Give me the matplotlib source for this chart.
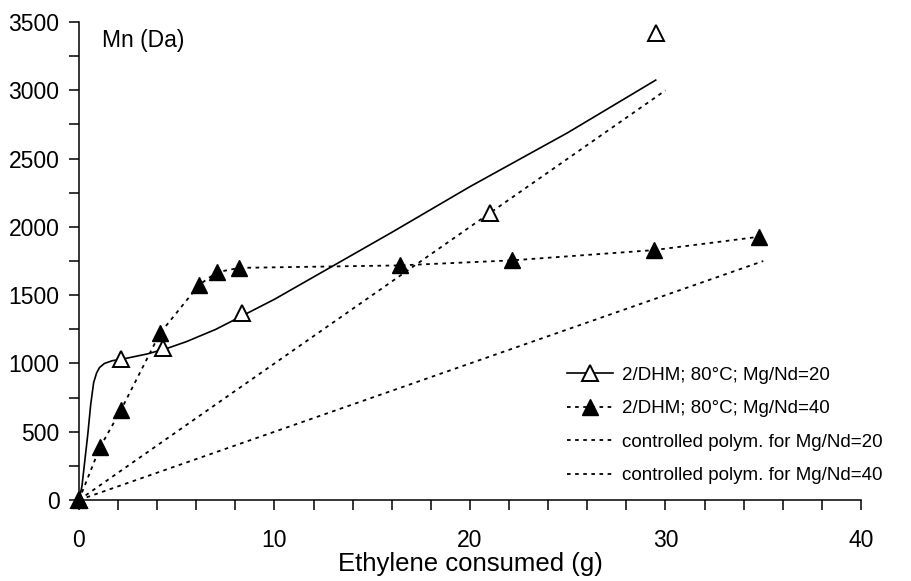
import matplotlib
matplotlib.use("Agg")
import matplotlib.pyplot as plt
from matplotlib.ticker import MultipleLocator

plt.rcParams['font.family'] = ['Liberation Sans', 'DejaVu Sans']

# Mg/Nd=20 measured points
x_nd20 = [0, 2.15, 4.3, 8.35, 21.0, 29.5]
mn_nd20 = [0, 1035, 1110, 1370, 2105, 3420]

# fitted curve through the Mg/Nd=20 series
x_fit20 = [0, 0.15, 0.3, 0.45, 0.6, 0.75, 0.9, 1.05, 1.3, 1.7, 2.5, 3.5, 4.5,
           5.5, 7, 8.5, 10, 13, 16, 20, 25, 29.5]
mn_fit20 = [0, 100, 290, 480, 700, 860, 930, 970, 1000, 1020, 1040, 1070, 1110,
            1160, 1250, 1360, 1470, 1715, 1960, 2295, 2690, 3075]

# Mg/Nd=40 measured points
x_nd40 = [0, 1.07, 2.15, 4.14, 6.14, 7.06, 8.2, 16.4, 22.15, 29.4, 34.8]
mn_nd40 = [0, 385, 660, 1220, 1575, 1668, 1700, 1718, 1755, 1830, 1928]

# theoretical lines for a controlled polymerisation
x_ctrl20 = [0, 30]
mn_ctrl20 = [0, 3000]
x_ctrl40 = [0, 35]
mn_ctrl40 = [0, 1750]

dots = (0, (2, 2.5))

fig = plt.figure(figsize=(9.11, 5.81), dpi=100)
ax = fig.add_axes([0.0867, 0.1394, 0.8584, 0.8226])

ax.plot(x_ctrl20, mn_ctrl20, color='black', linestyle=dots, linewidth=1.3)
ax.plot(x_ctrl40, mn_ctrl40, color='black', linestyle=dots, linewidth=1.3)
ax.plot(x_fit20, mn_fit20, color='black', linewidth=1.2)
ax.plot(x_nd40, mn_nd40, color='black', linestyle=dots, linewidth=1.3,
        marker='^', markersize=11, markerfacecolor='black', clip_on=False, zorder=4)
ax.plot(x_nd20, mn_nd20, linestyle='none', marker='^', markersize=11,
        markerfacecolor='white', markeredgecolor='black', markeredgewidth=1.4,
        clip_on=False, zorder=3)

# legend handles
h1, = ax.plot([], [], color='black', linewidth=1.2, marker='^', markersize=11,
              markerfacecolor='white', markeredgecolor='black', markeredgewidth=1.4)
h2, = ax.plot([], [], color='black', linestyle=dots, linewidth=1.3,
              marker='^', markersize=11, markerfacecolor='black')
h3, = ax.plot([], [], color='black', linestyle=dots, linewidth=1.3)
h4, = ax.plot([], [], color='black', linestyle=dots, linewidth=1.3)
ax.legend([h1, h2, h3, h4],
          ['2/DHM; 80°C; Mg/Nd=20', '2/DHM; 80°C; Mg/Nd=40',
           'controlled polym. for Mg/Nd=20', 'controlled polym. for Mg/Nd=40'],
          loc='lower left', bbox_to_anchor=(0.624, 0.033), frameon=False,
          fontsize=13.5, handlelength=2.45, handletextpad=0.48, labelspacing=0.87,
          borderpad=0, borderaxespad=0)

ax.set_xlim(0, 40)
ax.set_ylim(0, 3500)
ax.xaxis.set_major_locator(MultipleLocator(10))
ax.xaxis.set_minor_locator(MultipleLocator(2))
ax.yaxis.set_major_locator(MultipleLocator(500))
ax.yaxis.set_minor_locator(MultipleLocator(250))
ax.tick_params(which='both', direction='out', length=7, width=1.1, labelsize=16.5)
ax.tick_params(axis='x', pad=14)
ax.tick_params(axis='y', pad=7)

for side in ['top', 'right']:
    ax.spines[side].set_visible(False)
for side in ['left', 'bottom']:
    ax.spines[side].set_linewidth(1.1)

ax.set_xlabel('Ethylene consumed (g)', fontsize=18.5, labelpad=0)
ax.text(0.029, 0.985, 'Mn (Da)', transform=ax.transAxes, fontsize=16.5,
        ha='left', va='top')

fig.savefig('out.png', dpi=100)
